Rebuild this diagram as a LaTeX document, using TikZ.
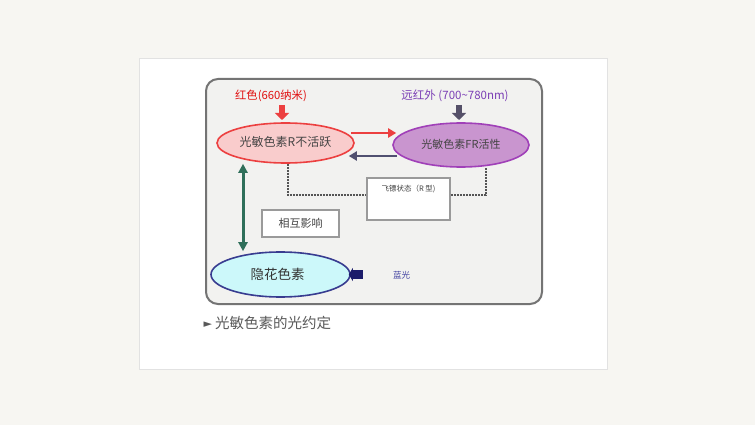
\documentclass[tikz,border=0pt]{standalone}
\usepackage{fontspec}
\setmainfont{Noto Sans CJK SC}
\newfontfamily\symfont{DejaVu Sans}
\usepackage{xcolor}
\usetikzlibrary{arrows.meta}
\usetikzlibrary{calc}
\usetikzlibrary{shapes.geometric, positioning}

\definecolor{pagebg}{HTML}{F7F6F2}
\definecolor{cardline}{HTML}{E2E2E2}
\definecolor{panelfill}{HTML}{F2F2F0}
\definecolor{panelline}{HTML}{747474}
\definecolor{redfill}{HTML}{F9CCCC}
\definecolor{redline}{HTML}{EC4040}
\definecolor{redtext}{HTML}{E01010}
\definecolor{frfill}{HTML}{C995CF}
\definecolor{frline}{HTML}{A040B8}
\definecolor{frtext}{HTML}{7B3FB5}
\definecolor{frarrow}{HTML}{555068}
\definecolor{backarrow}{HTML}{505070}
\definecolor{cryfill}{HTML}{CCF8FA}
\definecolor{cryline}{HTML}{383C90}
\definecolor{bluearrow}{HTML}{1C1C6A}
\definecolor{bluetext}{HTML}{4040A0}
\definecolor{greenarrow}{HTML}{2F6F5A}
\definecolor{dashgray}{HTML}{555555}
\definecolor{boxgray}{HTML}{9A9A9A}
\definecolor{textgray}{HTML}{444444}

\tikzset{
  pigment/.style={ellipse, draw, line width=1.6pt, inner sep=0pt, text=textgray},
  infobox/.style={draw=boxgray, fill=white, line width=1.4pt, inner sep=0pt},
  stub/.style={line width=6pt, -{Triangle[length=7pt,width=14pt]}},
  link/.style={line width=2.6pt, -{Triangle[length=8pt,width=9pt]}},
  dashlink/.style={draw=dashgray, line width=1.3pt, dash pattern=on 2pt off 1pt},
}

\begin{document}
\begin{tikzpicture}[x=1pt,y=-1pt]
        \newcommand{\figphotorx}{68.5}
        \newcommand{\figphotory}{20}
        % page and card
        \fill[pagebg] (0,0) rectangle (755,425);
        \draw[cardline, fill=white] (139,58) rectangle (607,369);
        \draw[panelline, fill=panelfill, line width=2pt, rounded corners=12pt] (206,79) rectangle (542,304);
        % pigments
        \node[pigment, draw=redline, fill=redfill, minimum width=2*\figphotorx pt, minimum height=2*\figphotory pt, font=\fontsize{12}{12}\selectfont] (rin) at (285.5,143) {\raisebox{3pt}{光敏色素R不活跃}};
        \node[pigment, draw=frline, fill=frfill, minimum width=136pt, minimum height=44pt, font=\fontsize{11}{11}\selectfont] (fr) at (461,145) {\raisebox{2pt}{光敏色素FR活性}};
        \node[pigment, draw=cryline, fill=cryfill, minimum width=139pt, minimum height=45pt, text=black!80, font=\fontsize{13.5}{13.5}\selectfont] (cry) at (280.5,274.5) {\hspace*{-6pt}隐花色素};
        % light labels
        \node[text=redtext, font=\fontsize{11.3}{11.3}\selectfont] (redlbl) at (271,96) {红色(660纳米)};
        \node[text=frtext, font=\fontsize{11.5}{11.5}\selectfont] (frlbl) at (455,96) {远红外 (700\textasciitilde780nm)};
        \node[text=bluetext, font=\fontsize{8.5}{8.5}\selectfont] (bluelbl) at (401.5,275) {蓝光};
        \coordinate (redsrc) at (282,105);
        \coordinate (frsrc) at (459,105);
        \draw[stub, redline] (redsrc) -- (redsrc |- 0,120);
        \draw[stub, frarrow] (frsrc) -- (frsrc |- 0,120);
        \draw[bluearrow, line width=9pt, -{Triangle[length=4pt,width=13pt]}] ([xshift=12pt]cry.east) -- ([xshift=-2pt]cry.east);
        % state change
        \draw[link, redline] ([yshift=10pt,xshift=-4pt]rin.east) -- ([yshift=12pt,xshift=4pt]fr.west);
        \draw[link, backarrow] ([yshift=-11pt,xshift=5pt]fr.west) -- ([yshift=-13pt,xshift=-6pt]rin.east);
        \draw[greenarrow, line width=3pt, {Triangle[length=9pt,width=9pt]}-{Triangle[length=9pt,width=9pt]}] ([xshift=-42.5pt]rin.south) -- ([xshift=-37.5pt]cry.north);
        % boxes
        \node[infobox, minimum width=83pt, minimum height=42pt] (phase) at (408.5,199) {};
        \node[anchor=north, text=textgray, font=\fontsize{7.5}{7.5}\selectfont] (phasetxt) at ([yshift=-4pt]phase.north) {飞镖状态（R 型)};
        \node[infobox, minimum width=77pt, minimum height=27pt, text=textgray, font=\fontsize{11}{11}\selectfont] (mutual) at (300.5,223.5) {相互影响};
        \draw[dashlink] ([xshift=2.5pt]rin.south) |- ([yshift=4pt]phase.west);
        \draw[dashlink] ([xshift=25pt]fr.south) |- ([yshift=4pt]phase.east);
        % caption
        \node[anchor=west, text=black!65, font=\fontsize{14.5}{14.5}\selectfont] (caption) at (200,323) {\raisebox{1pt}{\symfont\fontsize{11}{11}\selectfont ►} 光敏色素的光约定};
    \end{tikzpicture}
\end{document}
